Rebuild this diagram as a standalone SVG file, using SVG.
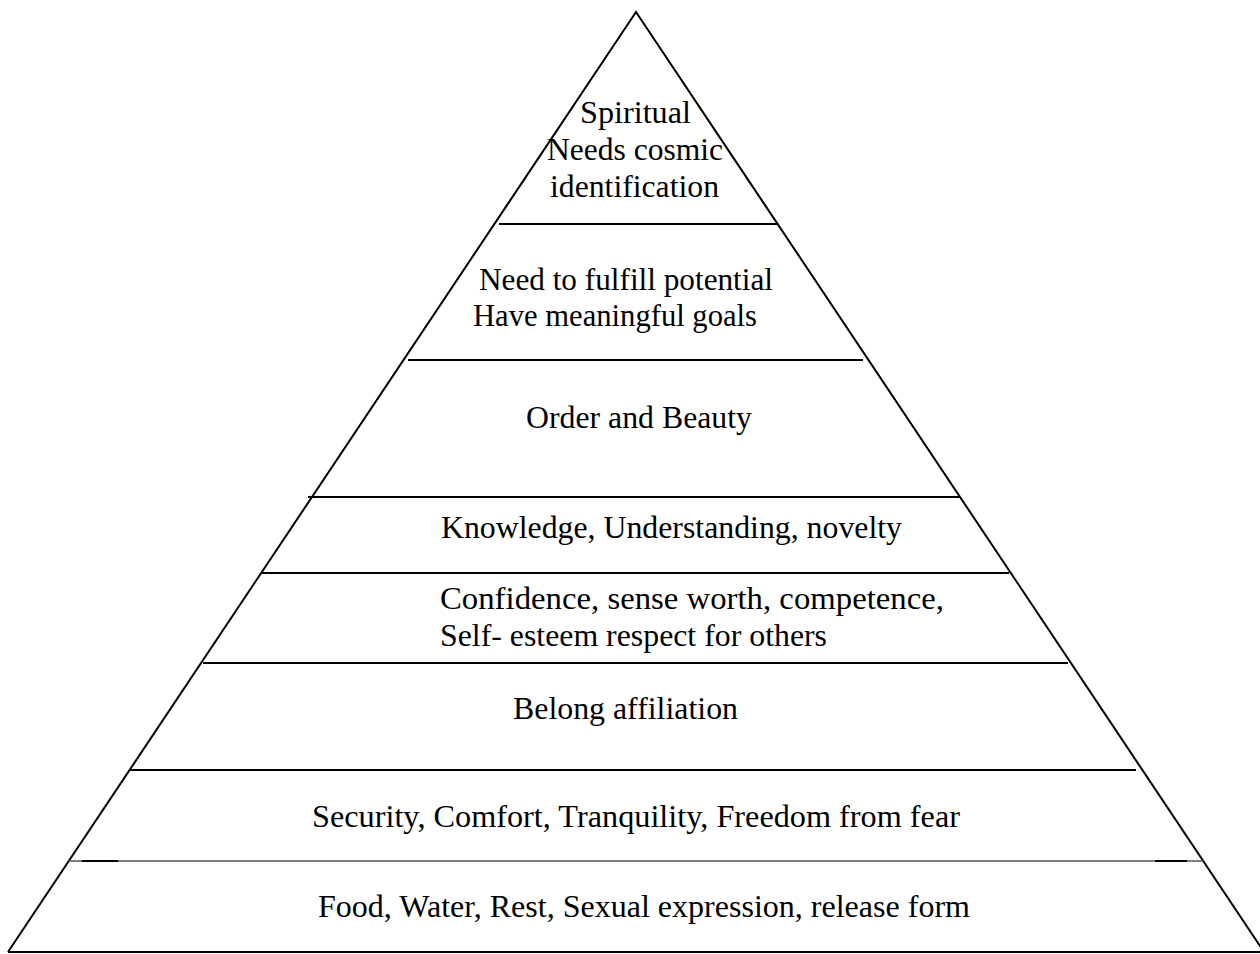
<svg xmlns="http://www.w3.org/2000/svg" width="1260" height="954" viewBox="0 0 1260 954">
<style>
.ln{stroke:#000;stroke-width:2;fill:none}
.t{font-family:"Liberation Serif","Times New Roman",serif;font-size:31px;fill:#000}
</style>
<rect width="1260" height="954" fill="#fff"/>
<g id="pyramid">
<polyline class="ln" points="8,952 636,12 1264,952"/>
<line class="ln" x1="8" y1="952" x2="1260" y2="952"/>
</g>
<g id="dividers">
<line class="ln" x1="499" y1="224" x2="777" y2="224"/>
<line class="ln" x1="408" y1="360" x2="863" y2="360"/>
<line class="ln" x1="308" y1="497" x2="960" y2="497"/>
<line class="ln" x1="262" y1="573" x2="1009" y2="573"/>
<line class="ln" x1="203" y1="663" x2="1068" y2="663"/>
<line class="ln" x1="130" y1="770" x2="1136" y2="770"/>
<line x1="69" y1="861" x2="1203" y2="861" stroke="#555" stroke-width="1.5"/>
<line x1="82" y1="861" x2="118" y2="861" stroke="#000" stroke-width="2"/>
<line x1="1155" y1="861" x2="1187" y2="861" stroke="#000" stroke-width="2"/>
</g>
<g id="level-spiritual">
<text class="t" x="580" y="123" textLength="111" lengthAdjust="spacingAndGlyphs">Spiritual</text>
<text class="t" x="547" y="160" textLength="176" lengthAdjust="spacingAndGlyphs">Needs cosmic</text>
<text class="t" x="550" y="197" textLength="169" lengthAdjust="spacingAndGlyphs">identification</text>
</g>
<g id="level-potential">
<text class="t" x="479" y="290" textLength="294" lengthAdjust="spacingAndGlyphs">Need to fulfill potential</text>
<text class="t" x="473" y="326" textLength="284" lengthAdjust="spacingAndGlyphs">Have meaningful goals</text>
</g>
<g id="level-order">
<text class="t" x="526" y="428" textLength="226" lengthAdjust="spacingAndGlyphs">Order and Beauty</text>
</g>
<g id="level-knowledge">
<text class="t" x="441" y="538" textLength="461" lengthAdjust="spacingAndGlyphs">Knowledge, Understanding, novelty</text>
</g>
<g id="level-esteem">
<text class="t" x="440" y="609" textLength="504" lengthAdjust="spacingAndGlyphs">Confidence, sense worth, competence,</text>
<text class="t" x="440" y="646" textLength="387" lengthAdjust="spacingAndGlyphs">Self- esteem respect for others</text>
</g>
<g id="level-belong">
<text class="t" x="513" y="719" textLength="225" lengthAdjust="spacingAndGlyphs">Belong affiliation</text>
</g>
<g id="level-security">
<text class="t" x="312" y="827" textLength="648" lengthAdjust="spacingAndGlyphs">Security, Comfort, Tranquility, Freedom from fear</text>
</g>
<g id="level-physiological">
<text class="t" x="318" y="917" textLength="652" lengthAdjust="spacingAndGlyphs">Food, Water, Rest, Sexual expression, release form</text>
</g>
</svg>
